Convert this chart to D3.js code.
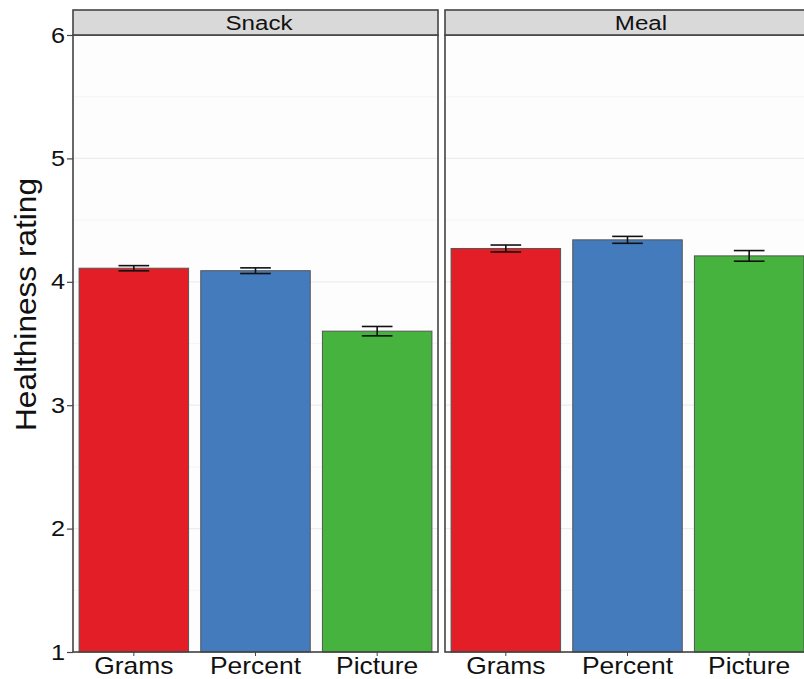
<!DOCTYPE html>
<html>
<head>
<meta charset="utf-8">
<script src="https://cdn.jsdelivr.net/npm/d3@7"></script>
<style>
  html, body { margin: 0; padding: 0; background: #fff; }
  svg { display: block; }
  text { font-family: "Liberation Sans", Arial, Helvetica, sans-serif; fill: #111; }
</style>
</head>
<body>
<svg id="chart" width="804" height="679"></svg>
<script>
// Healthiness rating by label format, faceted by eating occasion
const panels = ["Snack", "Meal"];
const formats = ["Grams", "Percent", "Picture"];
const snackMeans = [4.11, 4.09, 3.60];
const snackErrors = [0.021, 0.023, 0.038];
const mealMeans = [4.27, 4.34, 4.21];
const mealErrors = [0.028, 0.028, 0.043];
const yTicks = [1, 2, 3, 4, 5, 6];
const yMinorTicks = [1.5, 2.5, 3.5, 4.5, 5.5];
const barColors = ["#e31e26", "#447bbd", "#47b33f"];

const panelData = {
  Snack: formats.map((f, i) => ({ format: f, mean: snackMeans[i], se: snackErrors[i] })),
  Meal: formats.map((f, i) => ({ format: f, mean: mealMeans[i], se: mealErrors[i] }))
};

const svg = d3.select("#chart");

const plotTop = 35, plotBottom = 652;
const stripTop = 10;
const panelX = [[73, 438], [445, 810]];
const stripLabelX = [259, 641];
const textStretch = 1.15;   // slightly wide lettering

const y = d3.scaleLinear().domain([1, 6]).range([plotBottom, plotTop]);
const color = d3.scaleOrdinal().domain(formats).range(barColors);

// y axis labels and title
const yAxis = svg.append("g").attr("transform", `translate(${panelX[0][0]},0)`)
  .call(d3.axisLeft(y).tickValues(yTicks).tickFormat(d3.format("d")).tickSize(6).tickPadding(3));
yAxis.select(".domain").remove();
yAxis.selectAll(".tick line").attr("stroke", "#444").attr("stroke-width", 1.2);
yAxis.selectAll(".tick text")
  .attr("font-size", 22).attr("fill", "#111")
  .attr("x", -8 / textStretch)
  .attr("transform", `scale(${textStretch},1)`)
  .style("font-family", "'Liberation Sans', Arial, sans-serif");

svg.append("text")
  .attr("transform", `translate(36,${(178 + 431) / 2}) rotate(-90)`)
  .attr("text-anchor", "middle")
  .attr("font-size", 29)
  .attr("textLength", 253)
  .attr("lengthAdjust", "spacingAndGlyphs")
  .text("Healthiness rating");

panels.forEach((name, pi) => {
  const [x0, x1] = panelX[pi];
  const g = svg.append("g");

  const x = d3.scaleBand().domain(formats).range([x0, x1])
    .paddingInner(0.1).paddingOuter(0.05);

  // panel background
  g.append("rect").attr("x", x0).attr("y", plotTop)
    .attr("width", x1 - x0).attr("height", plotBottom - plotTop)
    .attr("fill", "#fdfdfd");

  // gridlines
  g.selectAll("line.minor").data(yMinorTicks).join("line")
    .attr("x1", x0).attr("x2", x1)
    .attr("y1", d => y(d)).attr("y2", d => y(d))
    .attr("stroke", "#f5f5f5").attr("stroke-width", 1);
  g.selectAll("line.major").data(yTicks).join("line")
    .attr("x1", x0).attr("x2", x1)
    .attr("y1", d => y(d)).attr("y2", d => y(d))
    .attr("stroke", "#ededed").attr("stroke-width", 1.3);

  const data = panelData[name];

  // bars
  g.selectAll("rect.bar").data(data).join("rect")
    .attr("class", "bar")
    .attr("x", d => x(d.format))
    .attr("width", x.bandwidth())
    .attr("y", d => y(d.mean))
    .attr("height", d => y(1) - y(d.mean))
    .attr("fill", d => color(d.format))
    .attr("stroke", "#555").attr("stroke-width", 1);

  // error bars
  const capHalf = x.bandwidth() * 0.14;
  const eb = g.selectAll("g.err").data(data).join("g").attr("class", "err")
    .attr("stroke", "#111").attr("stroke-width", 1.6);
  eb.append("line")
    .attr("x1", d => x(d.format) + x.bandwidth() / 2)
    .attr("x2", d => x(d.format) + x.bandwidth() / 2)
    .attr("y1", d => y(d.mean + d.se)).attr("y2", d => y(d.mean - d.se));
  eb.append("line")
    .attr("x1", d => x(d.format) + x.bandwidth() / 2 - capHalf)
    .attr("x2", d => x(d.format) + x.bandwidth() / 2 + capHalf)
    .attr("y1", d => y(d.mean + d.se)).attr("y2", d => y(d.mean + d.se));
  eb.append("line")
    .attr("x1", d => x(d.format) + x.bandwidth() / 2 - capHalf)
    .attr("x2", d => x(d.format) + x.bandwidth() / 2 + capHalf)
    .attr("y1", d => y(d.mean - d.se)).attr("y2", d => y(d.mean - d.se));

  // panel border
  g.append("rect").attr("x", x0).attr("y", plotTop)
    .attr("width", x1 - x0).attr("height", plotBottom - plotTop)
    .attr("fill", "none").attr("stroke", "#444").attr("stroke-width", 1.6);

  // facet strip
  g.append("rect").attr("x", x0).attr("y", stripTop)
    .attr("width", x1 - x0).attr("height", plotTop - stripTop)
    .attr("fill", "#d9d9d9").attr("stroke", "#444").attr("stroke-width", 1.6);
  g.append("text")
    .attr("transform", `translate(${stripLabelX[pi]},${(stripTop + plotTop) / 2 + 7.5}) scale(${textStretch},1)`)
    .attr("text-anchor", "middle").attr("font-size", 21)
    .text(name);

  // x axis
  const xAxis = g.append("g").attr("transform", `translate(0,${plotBottom})`)
    .call(d3.axisBottom(x).tickSize(4).tickPadding(2));
  xAxis.select(".domain").remove();
  xAxis.selectAll(".tick line").attr("stroke", "#444");
  xAxis.selectAll(".tick text")
    .attr("font-size", 23).attr("fill", "#111")
    .attr("transform", `scale(${textStretch},1)`)
    .style("font-family", "'Liberation Sans', Arial, sans-serif");
});
</script>
</body>
</html>
